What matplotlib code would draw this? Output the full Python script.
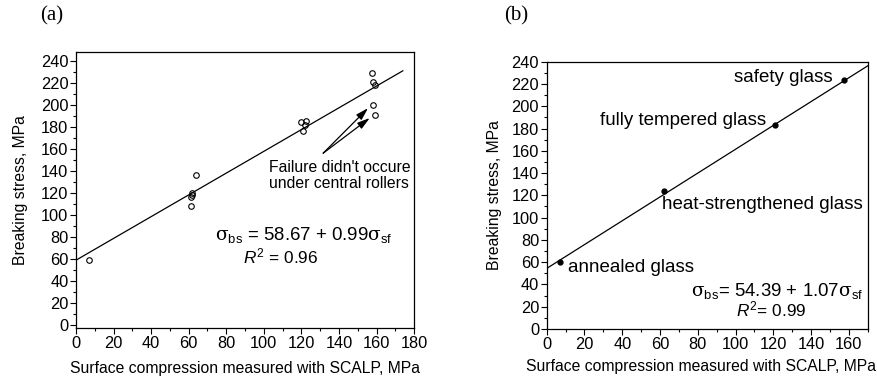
import numpy as np
import matplotlib
matplotlib.use("Agg")
import matplotlib.pyplot as plt
from matplotlib.ticker import MultipleLocator

plt.rcParams['font.family'] = ['Liberation Sans', 'DejaVu Sans']
plt.rcParams['mathtext.fontset'] = 'custom'
plt.rcParams['mathtext.rm'] = 'DejaVu Serif'
plt.rcParams['mathtext.sf'] = 'Liberation Sans'
plt.rcParams['mathtext.it'] = 'Liberation Sans:italic'

# (a) individual specimens
xa = [7, 61, 61, 62, 62, 64, 120, 121, 122, 122.5, 157.4, 158, 159, 158.2, 159]
ya = [59, 108, 116, 120, 118, 136, 184.5, 176.5, 182, 185, 229, 221, 218, 200, 191]
fit_a = (58.67, 0.99)

# (b) mean values per glass type
xb = [7, 62, 120.7, 157.4]
yb = [60.5, 123.6, 183.2, 223.6]
names_b = ['annealed glass', 'heat-strengthened glass', 'fully tempered glass', 'safety glass']
fit_b = (54.39, 1.07)

fig = plt.figure(figsize=(8.78, 3.8), dpi=100)
ax1 = fig.add_axes([0.0866, 0.137, 0.385, 0.726])
ax2 = fig.add_axes([0.6227, 0.1342, 0.3656, 0.7034])

fs = 11.3
tfs = 11.8
efs = 13.4
rfs = 12.4
lfs = 13.5

for ax in (ax1, ax2):
    ax.xaxis.set_major_locator(MultipleLocator(20))
    ax.xaxis.set_minor_locator(MultipleLocator(10))
    ax.yaxis.set_major_locator(MultipleLocator(20))
    ax.yaxis.set_minor_locator(MultipleLocator(10))
    ax.tick_params(which='major', direction='out', length=4, width=0.8, labelsize=tfs, pad=1.5)
    ax.tick_params(which='minor', direction='out', length=2, width=0.8)
    for s in ax.spines.values():
        s.set_linewidth(0.9)
    ax.set_xlabel('Surface compression measured with SCALP, MPa', fontsize=fs)

ax1.set_ylabel('Breaking stress, MPa', fontsize=fs, labelpad=9)
ax2.set_ylabel('Breaking stress, MPa', fontsize=fs, labelpad=7)
ax1.xaxis.labelpad = 7.5
ax2.xaxis.set_label_coords(0.48, -0.113)

# panel (a)
xl = np.array([0, 174])
ax1.plot(xl, fit_a[0] + fit_a[1] * xl, color='black', lw=0.9)
ax1.plot(xa, ya, 'o', mfc='none', mec='black', ms=4, mew=0.8)
for hx, hy in [(155.5, 197), (156.4, 188)]:
    ax1.annotate('', xy=(hx, hy), xytext=(131.6, 156),
                 arrowprops=dict(arrowstyle='-|>,head_length=0.75,head_width=0.22',
                                 color='black', lw=0.9, shrinkA=0, shrinkB=0))
ax1.text(102.5, 136, "Failure didn't occure\nunder central rollers",
         fontsize=fs, va='center', ha='left', linespacing=1.1)
ax1.text(74, 82, r'$\mathrm{σ}_\mathsf{bs}$ = 58.67 + 0.99$\mathrm{σ}_\mathsf{sf}$',
         fontsize=efs, va='center', ha='left')
ax1.text(89, 62, r'$R^\mathsf{2}$ = 0.96', fontsize=rfs, va='center', ha='left')
ax1.set_xlim(0, 180)
ax1.set_ylim(-3, 248)

# panel (b)
xl = np.array([0, 170])
ax2.plot(xl, fit_b[0] + fit_b[1] * xl, color='black', lw=0.9)
ax2.plot(xb, yb, 'o', color='black', ms=3.5)
lab_pos = [(11.5, 55.4, 'left'), (60.8, 112, 'left'), (116, 187, 'right'), (151.5, 225.5, 'right')]
for (tx, ty, ha), name in zip(lab_pos, names_b):
    ax2.text(tx, ty, name, fontsize=lfs, va='center', ha=ha)
ax2.text(76.5, 34.5, r'$\mathrm{σ}_\mathsf{bs}$= 54.39 + 1.07$\mathrm{σ}_\mathsf{sf}$',
         fontsize=efs, va='center', ha='left')
ax2.text(100.4, 18, r'$R^\mathsf{2}$= 0.99', fontsize=rfs, va='center', ha='left')
ax2.set_xlim(0, 170)
ax2.set_ylim(0, 240)

fig.text(40 / 878, 1 - 16 / 380, '(a)', family='Liberation Serif', fontsize=15,
         ha='left', va='center')
fig.text(504 / 878, 1 - 16 / 380, '(b)', family='Liberation Serif', fontsize=15,
         ha='left', va='center')

fig.savefig('out.png', dpi=100)
